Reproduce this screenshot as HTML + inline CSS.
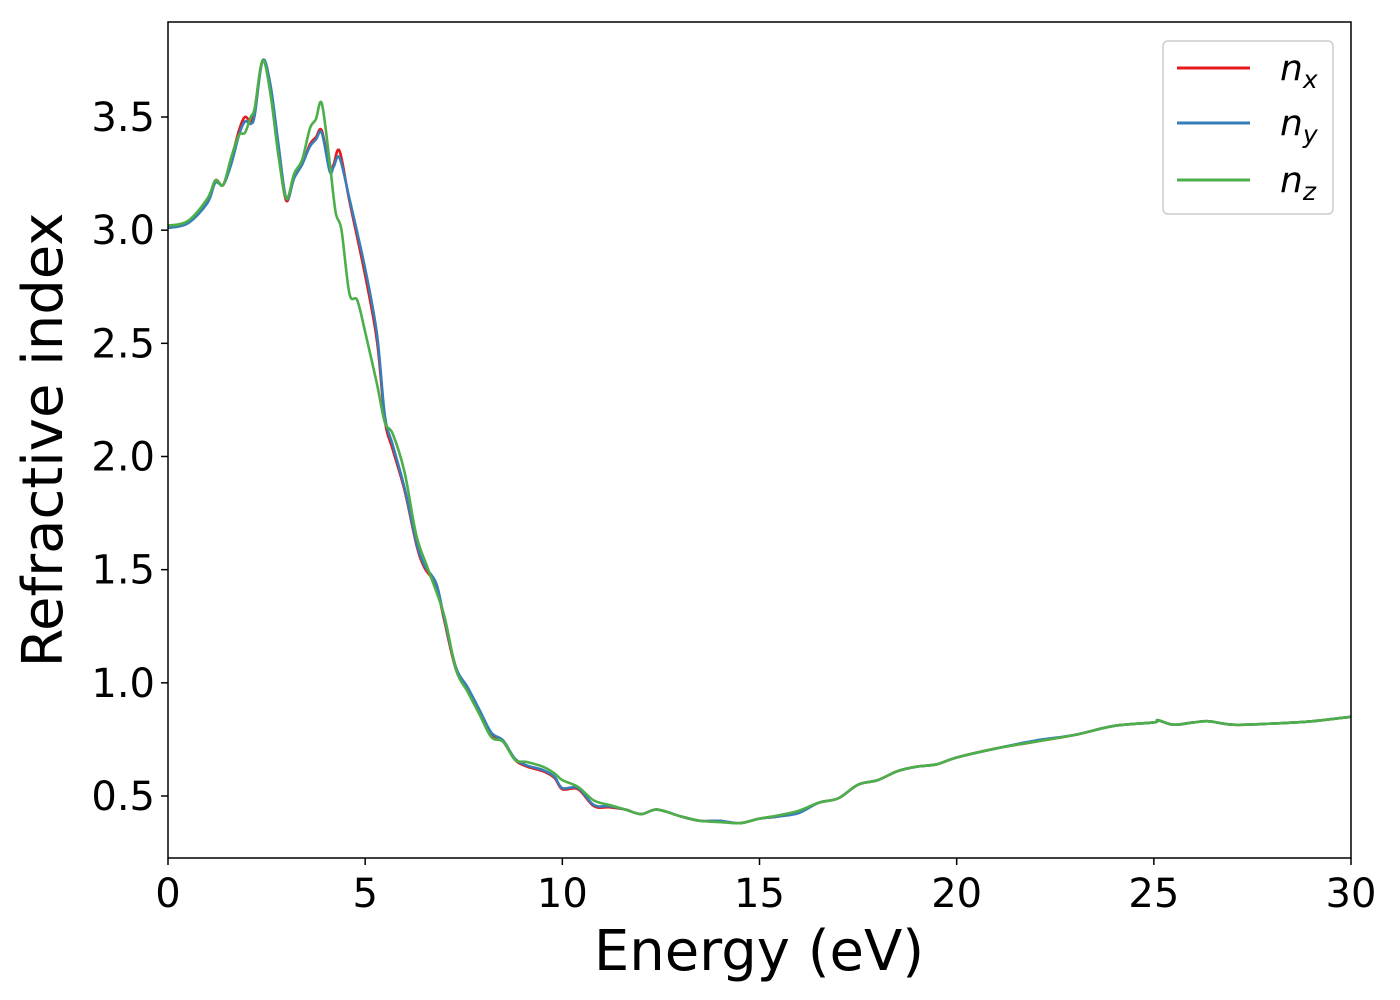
<!DOCTYPE html>
<html><head><meta charset="utf-8"><style>
body{margin:0;background:#fff}
svg{display:block;font-family:"DejaVu Sans","Liberation Sans",sans-serif}
</style></head><body>
<svg id="chart" width="1400" height="1000">
<rect x="0" y="0" width="1400" height="1000" fill="#fff"/>
<g id="lines"></g>
<rect x="168" y="22" width="1183" height="836" fill="none" stroke="#000" stroke-width="1.5"/>
<g id="xt"></g><g id="yt"></g>
<text x="759" y="970" font-size="56" text-anchor="middle">Energy (eV)</text>
<text transform="translate(62,440) rotate(-90)" font-size="56" text-anchor="middle">Refractive index</text>
<g>
<rect x="1163" y="41" width="170" height="173" rx="5" fill="#fff" stroke="#ccc" stroke-width="1.5"/>
<g><line x1="1177" y1="68" x2="1250" y2="68" stroke="#e41a1c" stroke-width="3"/><text x="1280" y="80" font-size="36" font-style="italic">n<tspan font-size="25" dy="8">x</tspan></text></g>
<g><line x1="1177" y1="123" x2="1250" y2="123" stroke="#377eb8" stroke-width="3"/><text x="1280" y="135" font-size="36" font-style="italic">n<tspan font-size="25" dy="8">y</tspan></text></g>
<g><line x1="1177" y1="180" x2="1250" y2="180" stroke="#4daf4a" stroke-width="3"/><text x="1280" y="192" font-size="36" font-style="italic">n<tspan font-size="25" dy="8">z</tspan></text></g>
</g>
</svg>
<script>
const energyX=[0,0.5,1,1.2,1.4,1.6,1.8,1.95,2.1,2.2,2.4,2.6,2.8,3.0,3.2,3.4,3.6,3.75,3.9,4.1,4.2,4.35,4.6,5.0,5.3,5.5,5.7,6.0,6.3,6.5,6.8,7.0,7.3,7.6,7.9,8.2,8.5,8.8,9.1,9.5,9.8,10,10.4,10.8,11.2,11.6,12,12.4,13,13.5,14,14.5,15,15.5,16,16.5,17,17.5,18,18.5,19,19.5,20,21,22,23,24,25,25.1,25.5,26,26.4,27,28,29,30];
const nxValues=[3.01,3.035,3.13,3.22,3.2,3.31,3.44,3.5,3.48,3.53,3.75,3.62,3.35,3.13,3.24,3.29,3.38,3.41,3.44,3.27,3.29,3.35,3.13,2.8,2.51,2.16,2.03,1.85,1.61,1.51,1.43,1.28,1.06,0.97,0.87,0.77,0.74,0.66,0.63,0.61,0.58,0.53,0.53,0.455,0.45,0.44,0.42,0.44,0.41,0.39,0.39,0.38,0.4,0.41,0.43,0.47,0.49,0.55,0.57,0.61,0.63,0.64,0.67,0.71,0.74,0.77,0.81,0.825,0.835,0.815,0.825,0.83,0.815,0.82,0.83,0.85];
const nyValues=[3.01,3.03,3.12,3.21,3.2,3.29,3.42,3.48,3.47,3.51,3.75,3.64,3.38,3.14,3.23,3.29,3.37,3.4,3.43,3.26,3.28,3.32,3.14,2.83,2.54,2.18,2.05,1.86,1.62,1.52,1.44,1.29,1.07,0.98,0.88,0.78,0.745,0.665,0.635,0.615,0.585,0.535,0.535,0.46,0.455,0.44,0.42,0.44,0.41,0.39,0.39,0.38,0.4,0.41,0.425,0.47,0.49,0.55,0.57,0.61,0.63,0.64,0.67,0.71,0.745,0.77,0.81,0.825,0.835,0.815,0.825,0.83,0.815,0.82,0.83,0.85];
const energyZ=[0,0.5,1,1.2,1.4,1.6,1.8,1.95,2.1,2.2,2.4,2.6,2.8,3.0,3.2,3.4,3.6,3.75,3.9,4.1,4.25,4.4,4.6,4.8,5.0,5.3,5.5,5.7,6.0,6.3,6.6,7.0,7.3,7.6,7.9,8.2,8.5,8.8,9.1,9.5,9.8,10,10.4,10.8,11.2,11.6,12,12.4,13,13.5,14,14.5,15,15.5,16,16.5,17,17.5,18,18.5,19,19.5,20,21,22,23,24,25,25.1,25.5,26,26.4,27,28,29,30];
const nzValues=[3.02,3.04,3.14,3.22,3.2,3.32,3.42,3.43,3.5,3.54,3.75,3.6,3.33,3.14,3.25,3.31,3.45,3.49,3.56,3.3,3.08,3.0,2.72,2.69,2.55,2.32,2.15,2.1,1.93,1.65,1.5,1.3,1.06,0.96,0.86,0.76,0.74,0.66,0.65,0.63,0.6,0.57,0.54,0.48,0.46,0.44,0.42,0.44,0.41,0.39,0.385,0.38,0.4,0.415,0.435,0.47,0.49,0.55,0.57,0.61,0.63,0.64,0.67,0.71,0.74,0.77,0.81,0.825,0.835,0.815,0.825,0.83,0.815,0.82,0.83,0.85];
const xTicks=[0,5,10,15,20,25,30];
const yTicks=[0.5,1.0,1.5,2.0,2.5,3.0,3.5];
const NS='http://www.w3.org/2000/svg';
function xs(e){return 168+e*(1183/30);}
function ys(v){return 117+(3.5-v)*226.33;}
function path(xa,ya){
  const p=xa.map((e,i)=>[xs(e),ys(ya[i])]);
  let d='M'+p[0][0]+','+p[0][1];
  for(let i=0;i<p.length-1;i++){
    const p0=p[Math.max(i-1,0)],p1=p[i],p2=p[i+1],p3=p[Math.min(i+2,p.length-1)];
    const c1=[p1[0]+(p2[0]-p0[0])/6,p1[1]+(p2[1]-p0[1])/6];
    const c2=[p2[0]-(p3[0]-p1[0])/6,p2[1]-(p3[1]-p1[1])/6];
    d+=' C'+c1+' '+c2+' '+p2;
  }
  return d;
}
const g=document.getElementById('lines');
[[energyX,nxValues,'#e41a1c','series-nx'],[energyX,nyValues,'#377eb8','series-ny'],[energyZ,nzValues,'#4daf4a','series-nz']].forEach(s=>{
  const el=document.createElementNS(NS,'path');
  el.setAttribute('d',path(s[0],s[1]));
  el.setAttribute('fill','none');el.setAttribute('stroke',s[2]);el.setAttribute('stroke-width','2.6');
  
  
  g.appendChild(el);
});
const xt=document.getElementById('xt');
xTicks.forEach(t=>{
  const l=document.createElementNS(NS,'line');
  l.setAttribute('x1',xs(t));l.setAttribute('x2',xs(t));l.setAttribute('y1',858);l.setAttribute('y2',865);l.setAttribute('stroke','#000');l.setAttribute('stroke-width','1.5');
  
  
  xt.appendChild(l);
  const tx=document.createElementNS(NS,'text');
  tx.setAttribute('x',xs(t));tx.setAttribute('y',907);tx.setAttribute('font-size','40');tx.setAttribute('text-anchor','middle');
  tx.textContent=t;
  
  
  xt.appendChild(tx);
});
const yt=document.getElementById('yt');
yTicks.forEach(t=>{
  const l=document.createElementNS(NS,'line');
  l.setAttribute('x1',161);l.setAttribute('x2',168);l.setAttribute('y1',ys(t));l.setAttribute('y2',ys(t));l.setAttribute('stroke','#000');l.setAttribute('stroke-width','1.5');
  
  
  yt.appendChild(l);
  const tx=document.createElementNS(NS,'text');
  tx.setAttribute('x',155);tx.setAttribute('y',ys(t)+14);tx.setAttribute('font-size','40');tx.setAttribute('text-anchor','end');
  tx.textContent=t.toFixed(1);
  
  
  yt.appendChild(tx);
});
</script>
</body></html>
